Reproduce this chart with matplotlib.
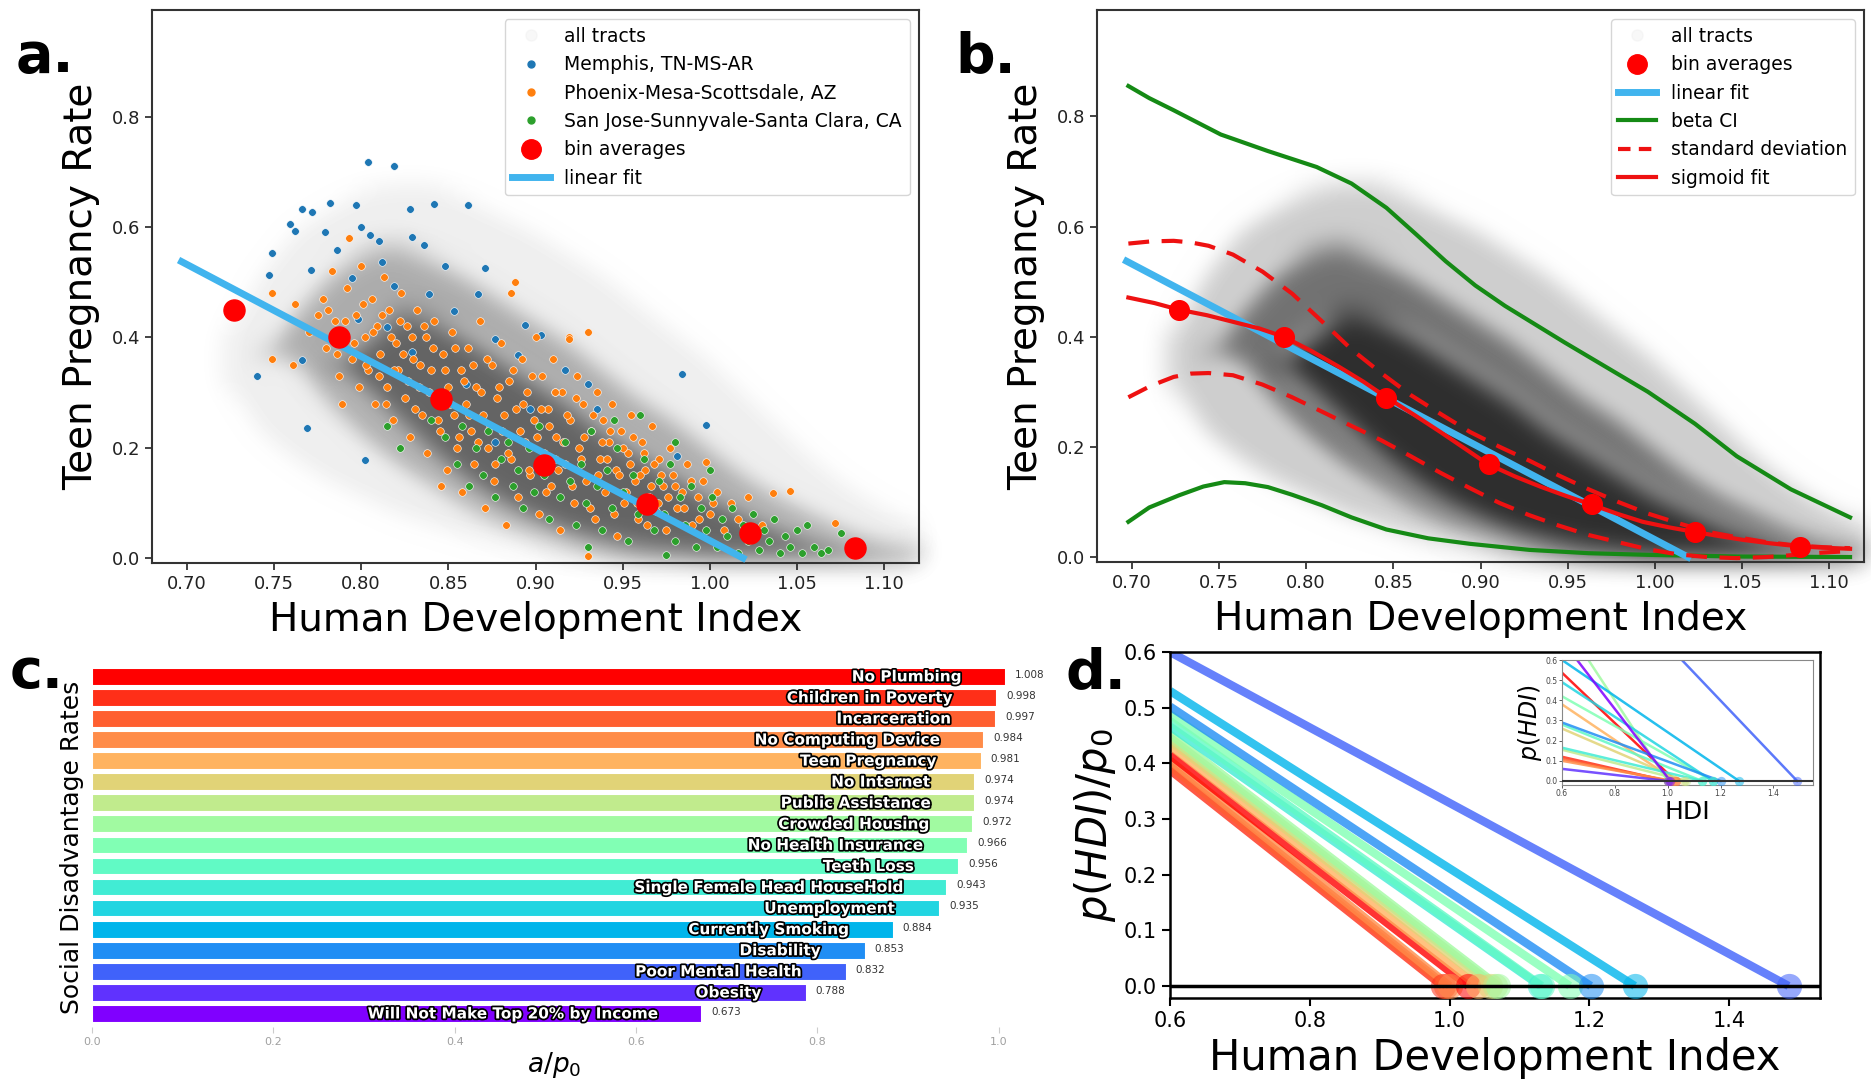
import numpy as np
import matplotlib.pyplot as plt
from matplotlib.lines import Line2D
import matplotlib.patheffects as pe

# ---------------- data ----------------
# bin averages and linear fit (panels a, b)
bin_hdi = [0.727, 0.787, 0.846, 0.905, 0.964, 1.023, 1.083]
bin_rate = [0.449, 0.400, 0.288, 0.169, 0.097, 0.046, 0.019]
fit_hdi = [0.697, 1.019]
fit_rate = [0.537, 0.0]

# gray cloud of all tracts, read as envelopes (outer / middle / core)
cloud_hdi = [0.72, 0.74, 0.76, 0.78, 0.80, 0.82, 0.84, 0.86, 0.88, 0.90, 0.92,
             0.94, 0.96, 0.98, 1.00, 1.02, 1.04, 1.06, 1.08, 1.10, 1.12]
outer_hi = [0.40, 0.52, 0.60, 0.64, 0.67, 0.68, 0.68, 0.66, 0.63, 0.60, 0.56,
            0.52, 0.47, 0.42, 0.37, 0.31, 0.25, 0.19, 0.14, 0.10, 0.07]
outer_lo = [0.32, 0.22, 0.17, 0.13, 0.10, 0.07, 0.05, 0.03, 0.02, 0.01, 0.0,
            0.0, 0.0, 0.0, 0.0, 0.0, 0.0, 0.0, 0.0, 0.0, 0.0]
mid_hi = [0.36, 0.36, 0.45, 0.52, 0.56, 0.57, 0.55, 0.52, 0.48, 0.44, 0.40,
          0.35, 0.30, 0.26, 0.21, 0.16, 0.12, 0.09, 0.06, 0.04, 0.03]
mid_lo = [0.36, 0.36, 0.35, 0.27, 0.21, 0.16, 0.12, 0.08, 0.05, 0.03, 0.015,
          0.005, 0.0, 0.0, 0.0, 0.0, 0.0, 0.0, 0.0, 0.0, 0.0]
core_hi = [0.35, 0.35, 0.35, 0.35, 0.40, 0.45, 0.44, 0.41, 0.37, 0.33, 0.29,
           0.24, 0.20, 0.16, 0.12, 0.09, 0.06, 0.04, 0.025, 0.015, 0.01]
core_lo = [0.35, 0.35, 0.35, 0.35, 0.30, 0.24, 0.18, 0.13, 0.09, 0.06, 0.035,
           0.02, 0.01, 0.005, 0.0, 0.0, 0.0, 0.0, 0.0, 0.0, 0.0]

# metro areas (panel a)
memphis_hdi = [0.804, 0.819, 0.782, 0.766, 0.772, 0.797, 0.828, 0.842, 0.861, 0.759,
               0.762, 0.779, 0.749, 0.771, 0.747, 0.800, 0.805, 0.810, 0.829, 0.836,
               0.848, 0.871, 0.867, 0.894, 0.903, 0.917, 0.930, 0.984, 0.998, 0.981,
               0.740, 0.769, 0.802, 0.766, 0.786, 0.812, 0.795, 0.819, 0.839, 0.853,
               0.798, 0.829, 0.877, 0.890, 0.911, 0.897, 0.877, 0.935, 0.860, 0.815]
memphis_rate = [0.718, 0.710, 0.644, 0.632, 0.627, 0.639, 0.633, 0.641, 0.639, 0.605,
                0.593, 0.591, 0.553, 0.521, 0.513, 0.600, 0.585, 0.574, 0.581, 0.567,
                0.530, 0.526, 0.478, 0.422, 0.405, 0.341, 0.315, 0.333, 0.241, 0.185,
                0.330, 0.235, 0.178, 0.359, 0.559, 0.537, 0.507, 0.493, 0.478, 0.448,
                0.433, 0.374, 0.396, 0.367, 0.300, 0.270, 0.211, 0.270, 0.315, 0.419]

phoenix_hdi = [0.749, 0.749, 0.761, 0.762, 0.770, 0.775, 0.778, 0.780, 0.783, 0.785,
               0.787, 0.789, 0.790, 0.792, 0.793, 0.795, 0.797, 0.799, 0.800, 0.802,
               0.804, 0.806, 0.808, 0.809, 0.811, 0.813, 0.815, 0.816, 0.818, 0.820,
               0.821, 0.823, 0.825, 0.826, 0.828, 0.830, 0.832, 0.833, 0.835, 0.837,
               0.838, 0.840, 0.842, 0.843, 0.845, 0.846, 0.847, 0.849, 0.850, 0.852,
               0.853, 0.855, 0.857, 0.858, 0.860, 0.861, 0.863, 0.865, 0.866, 0.868,
               0.870, 0.871, 0.873, 0.875, 0.876, 0.878, 0.880, 0.881, 0.883, 0.885,
               0.886, 0.888, 0.889, 0.890, 0.892, 0.894, 0.895, 0.897, 0.899, 0.900,
               0.902, 0.904, 0.905, 0.907, 0.909, 0.910, 0.912, 0.914, 0.915, 0.917,
               0.919, 0.920, 0.922, 0.924, 0.925, 0.927, 0.929, 0.930, 0.930, 0.932,
               0.934, 0.935, 0.937, 0.939, 0.940, 0.942, 0.944, 0.946, 0.947, 0.949,
               0.951, 0.953, 0.955, 0.957, 0.959, 0.961, 0.963, 0.965, 0.967, 0.969,
               0.971, 0.973, 0.975, 0.977, 0.979, 0.981, 0.984, 0.987, 0.990, 0.993,
               0.996, 0.998, 1.000, 1.004, 1.008, 1.012, 1.016, 1.022, 1.030, 1.036,
               1.046, 1.072, 0.886, 0.919,
               0.781, 0.786, 0.791, 0.796, 0.801, 0.803, 0.807, 0.810, 0.812, 0.814,
               0.817, 0.819, 0.822, 0.824, 0.827, 0.829, 0.831, 0.834, 0.836, 0.839,
               0.841, 0.844, 0.848, 0.851, 0.854, 0.856, 0.859, 0.862, 0.864, 0.867,
               0.869, 0.872, 0.874, 0.877, 0.879, 0.882, 0.884, 0.887, 0.891, 0.893,
               0.896, 0.898, 0.901, 0.903, 0.906, 0.908, 0.911, 0.913, 0.916, 0.918,
               0.921, 0.923, 0.926, 0.928, 0.931, 0.933, 0.936, 0.938, 0.941, 0.943,
               0.945, 0.948, 0.950, 0.952, 0.954, 0.956, 0.958, 0.960, 0.962, 0.964,
               0.966, 0.968, 0.970, 0.972, 0.976, 0.980, 0.985, 0.989, 0.994, 1.002]
phoenix_rate = [0.48, 0.36, 0.35, 0.46, 0.41, 0.44, 0.47, 0.38, 0.52, 0.43,
                0.33, 0.28, 0.40, 0.49, 0.58, 0.36, 0.44, 0.31, 0.53, 0.40,
                0.34, 0.47, 0.28, 0.42, 0.37, 0.51, 0.31, 0.45, 0.25, 0.39,
                0.34, 0.48, 0.29, 0.42, 0.22, 0.36, 0.45, 0.31, 0.26, 0.40,
                0.19, 0.34, 0.43, 0.29, 0.23, 0.13, 0.37, 0.16, 0.31, 0.41,
                0.26, 0.20, 0.34, 0.12, 0.28, 0.38, 0.23, 0.17, 0.31, 0.43,
                0.26, 0.09, 0.20, 0.35, 0.14, 0.29, 0.39, 0.23, 0.06, 0.32,
                0.18, 0.50, 0.27, 0.11, 0.36, 0.21, 0.30, 0.15, 0.25, 0.40,
                0.08, 0.33, 0.19, 0.27, 0.13, 0.36, 0.22, 0.05, 0.30, 0.17,
                0.40, 0.25, 0.10, 0.33, 0.20, 0.28, 0.14, 0.41, 0.004, 0.23,
                0.07, 0.30, 0.18, 0.25, 0.12, 0.21, 0.28, 0.16, 0.04, 0.23,
                0.10, 0.19, 0.26, 0.14, 0.07, 0.21, 0.16, 0.11, 0.24, 0.085,
                0.18, 0.13, 0.05, 0.20, 0.15, 0.09, 0.12, 0.17, 0.06, 0.11,
                0.14, 0.174, 0.08, 0.12, 0.05, 0.10, 0.07, 0.11, 0.06, 0.117,
                0.122, 0.063, 0.48, 0.396,
                0.45, 0.37, 0.43, 0.39, 0.46, 0.35, 0.41, 0.33, 0.44, 0.28,
                0.40, 0.34, 0.43, 0.37, 0.32, 0.40, 0.27, 0.35, 0.42, 0.30,
                0.38, 0.25, 0.34, 0.28, 0.38, 0.22, 0.32, 0.26, 0.35, 0.21,
                0.30, 0.36, 0.24, 0.17, 0.31, 0.26, 0.19, 0.34, 0.23, 0.28,
                0.16, 0.33, 0.22, 0.27, 0.12, 0.24, 0.30, 0.16, 0.21, 0.26,
                0.13, 0.29, 0.18, 0.22, 0.09, 0.26, 0.15, 0.21, 0.18, 0.23,
                0.08, 0.15, 0.20, 0.12, 0.17, 0.22, 0.10, 0.15, 0.19, 0.06,
                0.13, 0.17, 0.10, 0.15, 0.11, 0.13, 0.09, 0.14, 0.07, 0.10]

sanjose_hdi = [0.815, 0.822, 0.840, 0.848, 0.855, 0.858, 0.862, 0.866, 0.870, 0.873,
               0.877, 0.880, 0.884, 0.887, 0.890, 0.893, 0.896, 0.899, 0.902, 0.905,
               0.908, 0.911, 0.914, 0.917, 0.920, 0.923, 0.926, 0.929, 0.932, 0.935,
               0.938, 0.941, 0.944, 0.947, 0.950, 0.953, 0.956, 0.959, 0.962, 0.965,
               0.968, 0.971, 0.974, 0.977, 0.980, 0.983, 0.986, 0.989, 0.992, 0.995,
               0.998, 1.001, 1.004, 1.007, 1.010, 1.013, 1.016, 1.019, 1.022, 1.025,
               1.028, 1.031, 1.034, 1.037, 1.040, 1.043, 1.046, 1.050, 1.053, 1.056,
               1.060, 1.064, 1.068, 1.075, 0.960, 0.945, 0.930, 0.980, 1.000, 0.975]
sanjose_rate = [0.24, 0.20, 0.25, 0.22, 0.17, 0.24, 0.13, 0.20, 0.15, 0.23,
                0.11, 0.18, 0.21, 0.13, 0.16, 0.09, 0.20, 0.12, 0.24, 0.15,
                0.07, 0.18, 0.11, 0.21, 0.14, 0.06, 0.17, 0.10, 0.23, 0.13,
                0.05, 0.16, 0.09, 0.20, 0.12, 0.03, 0.15, 0.08, 0.18, 0.11,
                0.05, 0.14, 0.08, 0.17, 0.03, 0.11, 0.06, 0.13, 0.02, 0.09,
                0.05, 0.11, 0.02, 0.07, 0.04, 0.09, 0.01, 0.06, 0.03, 0.08,
                0.015, 0.05, 0.03, 0.07, 0.01, 0.04, 0.02, 0.05, 0.01, 0.06,
                0.02, 0.01, 0.015, 0.045, 0.26, 0.25, 0.02, 0.21, 0.16, 0.005]

# panel b curves
sig_hdi = [0.698, 0.713, 0.727, 0.743, 0.758, 0.773, 0.787, 0.803, 0.819, 0.833,
           0.846, 0.862, 0.877, 0.891, 0.904, 0.920, 0.935, 0.949, 0.963, 0.978,
           0.993, 1.008, 1.022, 1.037, 1.051, 1.066, 1.081, 1.096, 1.112]
sig_rate = [0.471, 0.461, 0.449, 0.439, 0.427, 0.415, 0.400, 0.374, 0.345, 0.318,
            0.290, 0.258, 0.227, 0.197, 0.169, 0.146, 0.127, 0.111, 0.096, 0.079,
            0.064, 0.054, 0.046, 0.038, 0.031, 0.025, 0.020, 0.017, 0.015]
sd_hdi = [0.698, 0.711, 0.724, 0.734, 0.744, 0.758, 0.775, 0.792, 0.809, 0.826,
          0.843, 0.860, 0.877, 0.894, 0.911, 0.928, 0.945, 0.962, 0.979, 0.996,
          1.013, 1.030, 1.047, 1.064, 1.081, 1.096, 1.112]
sd_upper = [0.569, 0.573, 0.574, 0.571, 0.565, 0.549, 0.518, 0.478, 0.428, 0.377,
            0.334, 0.294, 0.260, 0.227, 0.200, 0.175, 0.148, 0.123, 0.100, 0.079,
            0.062, 0.046, 0.036, 0.027, 0.021, 0.018, 0.016]
sd_lower = [0.290, 0.311, 0.327, 0.333, 0.334, 0.330, 0.313, 0.290, 0.264, 0.238,
            0.212, 0.183, 0.153, 0.125, 0.098, 0.076, 0.057, 0.040, 0.027, 0.014,
            0.005, 0.0, -0.002, 0.0, 0.004, 0.008, 0.011]
ci_hdi = [0.698, 0.710, 0.724, 0.751, 0.778, 0.806, 0.826, 0.846, 0.863, 0.880,
          0.897, 0.914, 0.931, 0.948, 0.972, 0.996, 1.023, 1.047, 1.078, 1.112]
ci_upper = [0.855, 0.833, 0.811, 0.767, 0.737, 0.708, 0.678, 0.634, 0.586, 0.537,
            0.493, 0.456, 0.423, 0.390, 0.345, 0.300, 0.242, 0.183, 0.123, 0.072]
ci_lower_hdi = [0.698, 0.710, 0.727, 0.741, 0.753, 0.765, 0.778, 0.792, 0.809, 0.826,
                0.846, 0.870, 0.894, 0.928, 0.962, 0.996, 1.047, 1.112]
ci_lower = [0.064, 0.090, 0.112, 0.128, 0.136, 0.134, 0.127, 0.113, 0.094, 0.072,
            0.050, 0.034, 0.024, 0.013, 0.007, 0.004, 0.001, 0.0]

# panel c
dis_labels = ["No Plumbing", "Children in Poverty", "Incarceration",
              "No Computing Device", "Teen Pregnancy", "No Internet",
              "Public Assistance", "Crowded Housing", "No Health Insurance",
              "Teeth Loss", "Single Female Head HouseHold", "Unemployment",
              "Currently Smoking", "Disability", "Poor Mental Health", "Obesity",
              "Will Not Make Top 20% by Income"]
dis_values = [1.008, 0.998, 0.997, 0.984, 0.981, 0.974, 0.974, 0.972, 0.966,
              0.956, 0.943, 0.935, 0.884, 0.853, 0.832, 0.788, 0.673]

# panel d: value at HDI=0.6 (normalised), x-intercept, colour position on rainbow
d_start = [0.388, 0.395, 0.405, 0.415, 0.432, 0.440, 0.446, 0.452, 0.466, 0.476,
           0.488, 0.502, 0.530, 0.600]
d_zero = [0.990, 0.995, 1.000, 1.027, 1.040, 1.058, 1.065, 1.070, 1.130, 1.132,
          1.172, 1.202, 1.265, 1.485]
d_cval = [0.9375, 0.875, 0.8125, 1.0, 0.75, 0.6875, 0.625, 0.5625, 0.375, 0.4375,
          0.5, 0.1875, 0.25, 0.125]

# inset: p(HDI) at 0.6, x-intercept, colour position
in_start = [0.537, 0.12, 0.11, 0.10, 0.38, 0.26, 0.155, 0.80, 0.42, 0.28,
            0.165, 0.49, 0.60, 0.29, 1.224, 0.06, 0.697]
in_zero = [1.030, 1.000, 1.005, 1.020, 1.030, 1.060, 1.070, 1.000, 1.170, 1.130,
           1.130, 1.170, 1.270, 1.200, 1.490, 1.000, 1.010]
in_cval = [1.0, 0.9375, 0.875, 0.8125, 0.75, 0.6875, 0.625, 0.5625, 0.5, 0.4375,
           0.375, 0.3125, 0.25, 0.1875, 0.125, 0.0625, 0.0]

# ---------------- helpers ----------------
W, H = 1871, 1091
fig = plt.figure(figsize=(W / 100, H / 100), dpi=100)
plt.rcParams['font.family'] = ['DejaVu Sans']


def add_ax(l, t, r, b):
    return fig.add_axes([l / W, 1 - b / H, (r - l) / W, (b - t) / H])


def blur(sigma):
    def f(im, dpi):
        pad = int(3 * sigma)
        a = np.pad(im, ((pad, pad), (pad, pad), (0, 0)))
        k = np.exp(-0.5 * (np.arange(-pad, pad + 1) / sigma) ** 2)
        k /= k.sum()
        out = np.zeros_like(a)
        for i, w in enumerate(k):
            out += w * np.roll(a, i - pad, axis=0)
        res = np.zeros_like(a)
        for i, w in enumerate(k):
            res += w * np.roll(out, i - pad, axis=1)
        return res, -pad, -pad
    return f


def draw_cloud(ax, alphas):
    bands = [(outer_lo, outer_hi), (mid_lo, mid_hi), (core_lo, core_hi)]
    for (lo, hi), al in zip(bands, alphas):
        poly = ax.fill_between(cloud_hdi, lo, hi, color="black", alpha=al, lw=0)
        poly.set_agg_filter(blur(9))


def style_scatter_axes(ax):
    ax.set_xlim(0.680, 1.120)
    ax.set_ylim(-0.009, 0.993)
    ax.set_xticks(np.arange(0.70, 1.101, 0.05))
    ax.set_xticklabels([f"{v:.2f}" for v in np.arange(0.70, 1.101, 0.05)])
    ax.set_yticks([0.0, 0.2, 0.4, 0.6, 0.8])
    ax.tick_params(labelsize=13, colors="#222222", length=5, width=1.2)
    for s in ax.spines.values():
        s.set_color("#333333")
        s.set_linewidth(1.5)
    ax.set_xlabel("Human Development Index", fontsize=28, labelpad=6)
    ax.set_ylabel("Teen Pregnancy Rate", fontsize=28, labelpad=8)


tract_handle = Line2D([], [], ls="none", marker="o", ms=8, color="#eeeeee", alpha=0.4)
bin_handle = Line2D([], [], ls="none", marker="o", ms=14, color="#ff0000")
fit_color = "#41b4ee"

# ---------------- panel a ----------------
axA = add_ax(152, 10, 919, 563)
draw_cloud(axA, [0.07, 0.28, 0.42])
axA.scatter(memphis_hdi, memphis_rate, s=30, color="#1f77b4", edgecolor="white", lw=0.4)
axA.scatter(phoenix_hdi, phoenix_rate, s=30, color="#ff7f0e", edgecolor="white", lw=0.4)
axA.scatter(sanjose_hdi, sanjose_rate, s=30, color="#2ca02c", edgecolor="white", lw=0.4)
axA.scatter(bin_hdi, bin_rate, s=230, color="#ff0000", zorder=5)
axA.plot(fit_hdi, fit_rate, color=fit_color, lw=5, zorder=4)
style_scatter_axes(axA)
handlesA = [tract_handle,
            Line2D([], [], ls="none", marker="o", ms=5, color="#1f77b4"),
            Line2D([], [], ls="none", marker="o", ms=5, color="#ff7f0e"),
            Line2D([], [], ls="none", marker="o", ms=5, color="#2ca02c"),
            bin_handle, Line2D([], [], color=fit_color, lw=5)]
labelsA = ["all tracts", "Memphis, TN-MS-AR", "Phoenix-Mesa-Scottsdale, AZ",
           "San Jose-Sunnyvale-Santa Clara, CA", "bin averages", "linear fit"]
axA.legend(handlesA, labelsA, loc="upper right", fontsize=13.5, borderaxespad=0.5)

# ---------------- panel b ----------------
axB = add_ax(1097, 10, 1864, 562)
draw_cloud(axB, [0.2, 0.45, 0.6])
axB.plot(ci_hdi, ci_upper, color="#158a15", lw=3, zorder=4)
axB.plot(ci_lower_hdi, ci_lower, color="#158a15", lw=3, zorder=4)
axB.plot(fit_hdi, fit_rate, color=fit_color, lw=5, zorder=4)
axB.plot(sd_hdi, sd_upper, color="#ee1111", lw=3, ls=(0, (5, 3)), zorder=5)
axB.plot(sd_hdi, sd_lower, color="#ee1111", lw=3, ls=(0, (5, 3)), zorder=5)
axB.plot(sig_hdi, sig_rate, color="#ee1111", lw=3, zorder=5)
axB.scatter(bin_hdi, bin_rate, s=200, color="#ff0000", zorder=6)
style_scatter_axes(axB)
handlesB = [tract_handle, bin_handle, Line2D([], [], color=fit_color, lw=5),
            Line2D([], [], color="#158a15", lw=3),
            Line2D([], [], color="#ee1111", lw=3, ls=(0, (3, 2))),
            Line2D([], [], color="#ee1111", lw=3)]
labelsB = ["all tracts", "bin averages", "linear fit", "beta CI",
           "standard deviation", "sigmoid fit"]
axB.legend(handlesB, labelsB, loc="upper right", fontsize=13.5, borderaxespad=0.5)

# ---------------- panel c ----------------
axC = add_ax(92, 668, 1017, 1027)
ypos = np.arange(len(dis_labels))
bar_colors = plt.cm.rainbow(np.linspace(1, 0, len(dis_labels)))
axC.barh(ypos, dis_values, height=0.84, color=bar_colors, edgecolor="white", lw=1.5)
axC.set_ylim(16.62, -0.42)
axC.set_xlim(0, 1.02)
for y, lab, v in zip(ypos, dis_labels, dis_values):
    axC.text(v - 0.05, y, lab, ha="right", va="center", color="white",
             fontsize=11, fontweight="bold",
             path_effects=[pe.withStroke(linewidth=2.5, foreground="black")])
    axC.text(v + 0.01, y - 0.1, f"{v:.3f}", ha="left", va="center", fontsize=7.5,
             color="#333333")
for s in axC.spines.values():
    s.set_visible(False)
axC.set_yticks([])
axC.set_xticks([0.0, 0.2, 0.4, 0.6, 0.8, 1.0])
axC.set_xticklabels(["0.0", "0.2", "0.4", "0.6", "0.8", "1.0"])
axC.tick_params(axis="x", labelsize=8, labelcolor="#a0a0a0", color="#cccccc",
                length=4, width=0.8)
axC.set_xlabel("$a/p_0$", fontsize=19, labelpad=2)
axC.set_ylabel("Social Disadvantage Rates", fontsize=18, labelpad=6)

# ---------------- panel d ----------------
axD = add_ax(1170, 652, 1820, 998)
for y0, x0, c in zip(d_start, d_zero, d_cval):
    col = plt.cm.rainbow(c)
    axD.plot([0.6, x0], [y0, 0.0], color=col, lw=6, alpha=0.8, solid_capstyle="butt")
    axD.scatter([x0], [0.0], s=330, color=col, alpha=0.55, lw=0, zorder=4)
axD.axhline(0.0, color="black", lw=2.5, zorder=5)
axD.set_xlim(0.6, 1.53)
axD.set_ylim(-0.0216, 0.6)
axD.set_xticks([0.6, 0.8, 1.0, 1.2, 1.4])
axD.set_yticks([0.0, 0.1, 0.2, 0.3, 0.4, 0.5, 0.6])
axD.tick_params(labelsize=15, length=6, width=1.5)
for s in axD.spines.values():
    s.set_linewidth(1.8)
axD.set_xlabel("Human Development Index", fontsize=30, labelpad=4)
axD.set_ylabel("$p(HDI)/p_0$", fontsize=30, labelpad=4)

# inset
axI = add_ax(1562, 660, 1813, 785)
for y0, x0, c in zip(in_start, in_zero, in_cval):
    col = plt.cm.rainbow(c)
    axI.plot([0.6, x0], [y0, 0.0], color=col, lw=1.8, alpha=0.85)
    axI.scatter([x0], [0.0], s=45, color=col, alpha=0.5, lw=0, zorder=4)
axI.axhline(0.0, color="#333333", lw=1.5, zorder=5)
axI.set_xlim(0.6, 1.55)
axI.set_ylim(-0.02, 0.6)
axI.set_xticks([0.6, 0.8, 1.0, 1.2, 1.4])
axI.set_yticks([0.0, 0.1, 0.2, 0.3, 0.4, 0.5, 0.6])
axI.tick_params(labelsize=5.5, length=2, width=0.6, colors="#444444", pad=1)
for s in axI.spines.values():
    s.set_color("#888888")
axI.set_xlabel("HDI", fontsize=18, labelpad=1)
axI.set_ylabel("$p(HDI)$", fontsize=17, labelpad=1)

# panel letters
for x, y, t in [(16, 72, "a."), (955, 72, "b."), (10, 688, "c."), (1066, 688, "d.")]:
    fig.text(x / W, 1 - y / H, t, fontsize=40, fontweight="bold", ha="left",
             va="baseline")

fig.savefig("out.png", dpi=100)
